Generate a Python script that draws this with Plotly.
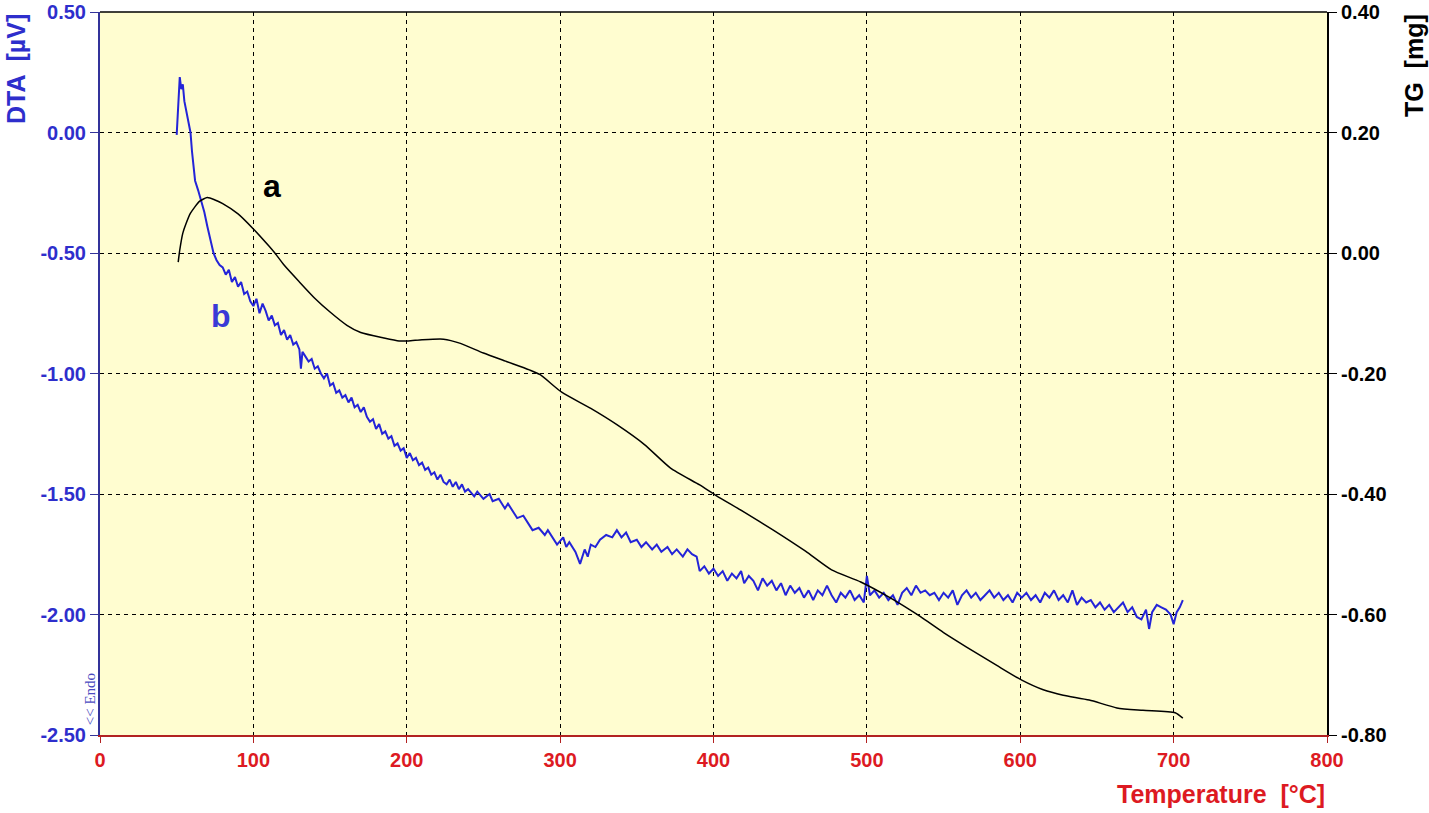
"""DTA / TG thermogram recreated with Plotly."""

import plotly.graph_objects as go

# DTA signal (curve b), left axis, µV
dta_temp = [
    50, 51, 52, 53, 54, 55, 56, 57, 58, 59,
    60, 61, 62, 64, 66, 68, 70, 72, 74, 76,
    78, 80, 82, 84, 86, 88, 90, 92, 94, 96,
    98, 100, 102, 104, 106, 108, 110, 112, 114, 116,
    118, 120, 122, 124, 126, 128, 130, 131, 132, 134,
    136, 138, 140, 142, 144, 146, 148, 150, 152, 154,
    156, 158, 160, 162, 164, 166, 168, 170, 172, 174,
    176, 178, 180, 182, 184, 186, 188, 190, 192, 194,
    196, 198, 200, 202, 204, 206, 208, 210, 212, 214,
    216, 218, 220, 222, 224, 226, 228, 230, 232, 234,
    236, 238, 240, 244, 246, 250, 254, 256, 260, 264,
    266, 270, 272, 276, 280, 282, 286, 290, 292, 296,
    298, 302, 304, 306, 310, 313, 316, 318, 320, 323,
    326, 330, 334, 337, 340, 343, 346, 350, 353, 356,
    360, 363, 366, 370, 373, 376, 380, 383, 386, 389,
    391, 394, 397, 400, 403, 406, 409, 412, 415, 418,
    420, 423, 426, 429, 432, 435, 438, 441, 444, 447,
    450, 453, 456, 459, 462, 465, 468, 471, 474, 477,
    480, 483, 486, 489, 492, 495, 498, 500, 502, 505,
    508, 511, 514, 517, 520, 523, 526, 529, 532, 535,
    538, 541, 544, 547, 550, 553, 556, 559, 562, 565,
    568, 571, 574, 577, 580, 583, 586, 589, 592, 595,
    598, 601, 604, 607, 610, 613, 616, 619, 622, 625,
    628, 631, 634, 637, 640, 643, 646, 649, 652, 655,
    658, 661, 664, 667, 670, 673, 676, 679, 682, 684,
    686, 689, 692, 695, 698, 700, 702, 704, 706,
]
dta_value = [
    -0.01, 0.12, 0.23, 0.18, 0.20, 0.13, 0.10, 0.06, 0.03, 0.00,
    -0.08, -0.15, -0.20, -0.24, -0.28, -0.33, -0.39, -0.44, -0.50, -0.53,
    -0.55, -0.56, -0.59, -0.57, -0.62, -0.60, -0.64, -0.62, -0.67, -0.66,
    -0.70, -0.72, -0.69, -0.75, -0.71, -0.74, -0.78, -0.76, -0.80, -0.79,
    -0.84, -0.82, -0.86, -0.84, -0.88, -0.87, -0.90, -0.98, -0.91, -0.93,
    -0.95, -0.94, -0.98, -0.97, -1.00, -1.02, -1.00, -1.05, -1.04, -1.08,
    -1.07, -1.10, -1.09, -1.12, -1.10, -1.14, -1.13, -1.16, -1.14, -1.18,
    -1.20, -1.19, -1.23, -1.21, -1.25, -1.24, -1.27, -1.26, -1.30, -1.29,
    -1.32, -1.31, -1.35, -1.33, -1.36, -1.35, -1.38, -1.37, -1.40, -1.39,
    -1.42, -1.41, -1.44, -1.42, -1.45, -1.46, -1.44, -1.47, -1.45, -1.48,
    -1.46, -1.49, -1.48, -1.51, -1.49, -1.52, -1.50, -1.53, -1.52, -1.56,
    -1.54, -1.58, -1.60, -1.59, -1.63, -1.65, -1.64, -1.67, -1.65, -1.69,
    -1.71, -1.68, -1.72, -1.70, -1.74, -1.79, -1.73, -1.76, -1.71, -1.72,
    -1.69, -1.67, -1.68, -1.65, -1.68, -1.66, -1.70, -1.69, -1.72, -1.70,
    -1.73, -1.71, -1.74, -1.72, -1.75, -1.73, -1.76, -1.73, -1.75, -1.76,
    -1.82, -1.80, -1.83, -1.81, -1.84, -1.82, -1.86, -1.83, -1.85, -1.82,
    -1.87, -1.84, -1.86, -1.90, -1.85, -1.88, -1.86, -1.90, -1.87, -1.92,
    -1.88, -1.91, -1.89, -1.93, -1.90, -1.94, -1.90, -1.92, -1.88, -1.92,
    -1.95, -1.91, -1.93, -1.90, -1.94, -1.92, -1.95, -1.84, -1.92, -1.90,
    -1.93, -1.91, -1.94, -1.92, -1.96, -1.91, -1.89, -1.92, -1.88, -1.91,
    -1.90, -1.92, -1.91, -1.94, -1.91, -1.93, -1.90, -1.96, -1.92, -1.90,
    -1.93, -1.91, -1.94, -1.92, -1.90, -1.93, -1.91, -1.94, -1.92, -1.95,
    -1.91, -1.93, -1.91, -1.94, -1.92, -1.95, -1.91, -1.93, -1.90, -1.94,
    -1.92, -1.95, -1.90, -1.96, -1.93, -1.95, -1.94, -1.97, -1.95, -1.98,
    -1.96, -1.99, -1.97, -1.95, -1.99, -1.97, -2.01, -2.02, -1.98, -2.06,
    -1.99, -1.96, -1.97, -1.98, -2.00, -2.04, -1.99, -1.97, -1.94,
]

# TG mass change (curve a), right axis, mg
tg_temp = [
    51, 52, 54, 56, 59, 65, 70, 75, 80, 90,
    100, 110, 114, 120, 130, 140, 150, 161, 170, 185,
    195, 201, 210, 224, 235, 250, 265, 280, 287, 301,
    320, 337, 355, 372, 391, 402, 420, 439, 460, 477,
    496, 515, 534, 550, 565, 585, 601, 615, 628, 645,
    663, 680, 701, 706,
]
tg_value = [
    -0.015, 0.005, 0.033, 0.048, 0.066, 0.086, 0.092, 0.088, 0.082, 0.065,
    0.040, 0.012, 0.0, -0.020, -0.048, -0.075, -0.098, -0.120, -0.132, -0.141,
    -0.146, -0.146, -0.144, -0.143, -0.150, -0.166, -0.180, -0.194, -0.202, -0.231,
    -0.258, -0.285, -0.318, -0.357, -0.385, -0.403, -0.430, -0.460, -0.495, -0.526,
    -0.546, -0.572, -0.602, -0.630, -0.654, -0.685, -0.709, -0.725, -0.734, -0.742,
    -0.755, -0.759, -0.763, -0.772,
]

x_ticks = [0, 100, 200, 300, 400, 500, 600, 700, 800]
dta_ticks = [0.5, 0.0, -0.5, -1.0, -1.5, -2.0, -2.5]
dta_tick_text = ["0.50", "0.00", "-0.50", "-1.00", "-1.50", "-2.00", "-2.50"]
tg_ticks = [0.4, 0.2, 0.0, -0.2, -0.4, -0.6, -0.8]
tg_tick_text = ["0.40", "0.20", "0.00", "-0.20", "-0.40", "-0.60", "-0.80"]

FONT = "Liberation Sans, Arial, sans-serif"
BLUE = "#2E2ECC"
RED = "#DD1A22"
LINE_BLUE = "#2424D8"

fig = go.Figure()

fig.add_trace(go.Scatter(
    x=dta_temp, y=dta_value, mode="lines",
    line=dict(color=LINE_BLUE, width=2),
    name="DTA", yaxis="y",
))
fig.add_trace(go.Scatter(
    x=tg_temp, y=tg_value, mode="lines",
    line=dict(color="black", width=1.5, shape="spline", smoothing=0.6),
    name="TG", yaxis="y2",
))

fig.update_layout(
    width=1429, height=813,
    autosize=False,
    paper_bgcolor="white",
    plot_bgcolor="#FFFDD0",
    showlegend=False,
    margin=dict(l=100, r=102, t=12, b=78),
    xaxis=dict(
        range=[0, 800], tickvals=x_ticks, automargin=False,
        showline=True, linecolor="#B22222", linewidth=1.5,
        ticks="outside", ticklen=6, tickcolor="#B22222",
        tickfont=dict(family=FONT, size=20, color=RED, weight="bold"),
        showgrid=True, gridcolor="black", gridwidth=1, griddash="4px,4px",
        zeroline=False,
    ),
    yaxis=dict(
        range=[-2.5, 0.5], tickvals=dta_ticks, ticktext=dta_tick_text,
        automargin=False,
        showline=True, linecolor="#33339A", linewidth=2,
        ticks="outside", ticklen=8, tickcolor="#33339A",
        tickfont=dict(family=FONT, size=20, color=BLUE, weight="bold"),
        showgrid=True, gridcolor="black", gridwidth=1, griddash="4px,4px",
        zeroline=False,
    ),
    yaxis2=dict(
        range=[-0.8, 0.4], tickvals=tg_ticks, ticktext=tg_tick_text,
        automargin=False,
        overlaying="y", side="right",
        showline=True, linecolor="black", linewidth=2,
        ticks="outside", ticklen=8, tickcolor="black",
        tickfont=dict(family=FONT, size=20, color="black", weight="bold"),
        showgrid=False, zeroline=False,
    ),
)

# top frame line
fig.add_shape(type="line", xref="paper", yref="paper", x0=0, x1=1, y0=1, y1=1,
              line=dict(color="black", width=1.5))

annotations = [
    dict(text="DTA  [µV]", xref="paper", yref="paper", x=-0.0685, y=1.0,
         xanchor="center", yanchor="top", textangle=-90,
         font=dict(family=FONT, size=25, color=BLUE, weight="bold")),
    dict(text="TG  [mg]", xref="paper", yref="paper", x=1.0705, y=1.0,
         xanchor="center", yanchor="top", textangle=-90,
         font=dict(family=FONT, size=25, color="black", weight="bold")),
    dict(text="Temperature  [°C]", xref="paper", yref="paper", x=1.0, y=-0.082,
         xanchor="right", yanchor="middle",
         font=dict(family=FONT, size=25, color=RED, weight="bold")),
    dict(text="<< Endo", xref="paper", yref="paper", x=-0.008, y=0.011,
         xanchor="center", yanchor="bottom", textangle=-90,
         font=dict(family="Liberation Serif, serif", size=15, color="#4A4AC0")),
    dict(text="a", xref="x", yref="y", x=112, y=-0.22,
         font=dict(family=FONT, size=32, color="black", weight="bold")),
    dict(text="b", xref="x", yref="y", x=79, y=-0.76,
         font=dict(family=FONT, size=32, color="#3A3AD6", weight="bold")),
]
for a in annotations:
    a["showarrow"] = False
    fig.add_annotation(**a)

# drop the default page margin so the figure sits at the window's corner
fig.write_html(
    "out.html",
    config={"displayModeBar": False},
    post_script="document.body.style.margin = '0';",
)
